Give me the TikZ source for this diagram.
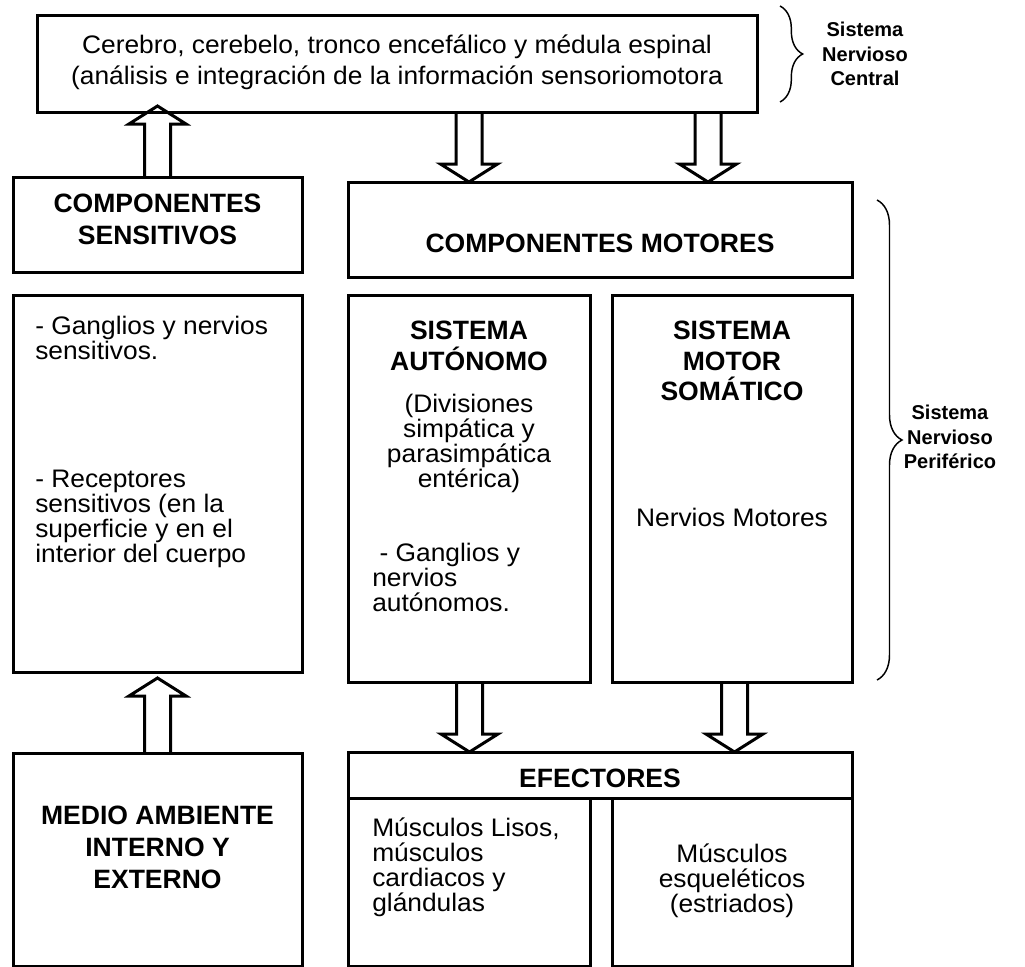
\documentclass[tikz,border=0pt]{standalone}
\usepackage{fontspec}
\setmainfont{Liberation Sans}
\newfontfamily\rf{Liberation Sans}[FakeStretch=1.04]
\usetikzlibrary{calc,fit,decorations.pathreplacing}
\begin{document}
\begin{tikzpicture}[x=0.75pt,y=-0.75pt,
  box/.style={draw,line width=2.25pt,rectangle,inner sep=0pt,outer sep=0pt},
  barrow/.style={line width=2.25pt,line join=miter,
    to path={let \p1=(\tikztostart),\p2=(\tikztotarget),
      \p3=($(\tikztotarget)!13.5pt!(\tikztostart)$) in
      (\x1-9.75pt,\y1) -- (\x1-9.75pt,\y3) -- (\x1-21.4pt,\y3) -- (\x2,\y2)
      -- (\x1+21.4pt,\y3) -- (\x1+9.75pt,\y3) -- (\x1+9.75pt,\y1)}},
  hb/.style={font=\bfseries\fontsize{19.9}{23.25}\selectfont,align=center,inner sep=0pt},
  rg/.style={font=\rf\fontsize{19}{18.75}\selectfont,inner sep=0pt},
  sm/.style={font=\bfseries\fontsize{15}{18.4}\selectfont,align=center,inner sep=0pt},
  brc/.style={line width=1.1pt,decorate,decoration={brace,amplitude=#1}}
]
\useasboundingbox (0,0) rectangle (1025,967);
\clip (0,0) rectangle (1025,967);

% boxes
\node[box,fit={(37,15)(757,112)}] (cns) {};
\node[box,fit={(13,177)(302,272)}] (sens) {};
\node[box,fit={(348,182)(852,277)}] (mot) {};
\node[box,fit={(13,295)(302,672)}] (sensdet) {};
\node[box,fit={(348,295)(590,682)}] (auto) {};
\node[box,fit={(612,295)(852,682)}] (soma) {};
\node[box,fit={(13,753)(302,966)}] (medio) {};
\node[box,fit={(348,752)(852,798)}] (efe) {};
\node[box,fit={(348,798)(590,966)}] (musl) {};
\node[box,fit={(612,798)(852,966)}] (musk) {};

% texts
\node[rg,align=center,font=\rf\fontsize{19}{23.25}\selectfont] (tcns) at (397,62)
  {Cerebro, cerebelo, tronco encefálico y médula espinal\\(análisis e integración de la información sensoriomotora};
\node[hb,font=\bfseries\fontsize{19.9}{24}\selectfont] (tsens) at (157.5,219) {COMPONENTES\\SENSITIVOS};
\node[hb] (tmot) at (600,243) {COMPONENTES MOTORES};
\node[rg,align=left,anchor=west] (tsd1) at (35,337.5) {- Ganglios y nervios\\sensitivos.};
\node[rg,align=left,anchor=west] (tsd2) at (35,518.5) {- Receptores\\sensitivos (en la\\superficie y en el\\interior del cuerpo};
\node[hb] (tauto) at (469,346) {SISTEMA\\AUTÓNOMO};
\node[rg,align=center] (tauto2) at (469,443) {(Divisiones\\simpática y\\parasimpática\\entérica)};
\node[rg,align=left,anchor=west] (tauto3) at (372,577) {\hspace*{5.5pt}- Ganglios y\\nervios\\autónomos.};
\node[hb,font=\bfseries\fontsize{19.9}{23}\selectfont] (tsoma) at (732,361) {SISTEMA\\MOTOR\\SOMÁTICO};
\node[rg] (tsoma2) at (732,517) {Nervios Motores};
\node[hb] (tefe) at (600,778) {EFECTORES};
\node[rg,align=left,anchor=west] (tmusl) at (372,867) {Músculos Lisos,\\músculos\\cardiacos y\\glándulas};
\node[rg,align=center] (tmusk) at (732,881) {Músculos\\esqueléticos\\(estriados)};
\node[hb,font=\bfseries\fontsize{19.9}{24}\selectfont] (tmedio) at (157.5,847) {MEDIO AMBIENTE\\INTERNO Y\\EXTERNO};

% braces and labels
\coordinate (b1a) at (780,6);
\coordinate (b1b) at (780,102);
\draw[brc=17pt] (b1a) -- (b1b);
\node[sm] (lcns) at (865,54) {Sistema\\Nervioso\\Central};
\coordinate (b2a) at (877,200);
\coordinate (b2b) at (877,680);
\draw[brc=18.75pt] (b2a) -- (b2b);
\node[sm] (lpns) at (950,437) {Sistema\\Nervioso\\Periférico};

% block arrows
\coordinate (a1e) at ($(sens.north)+(0,-71)$);
\draw[barrow] (sens.north) to (a1e);
\coordinate (a2s) at (cns.south -| auto.north);
\draw[barrow] (a2s) to (a2s |- mot.north);
\coordinate (a3s) at (708,112);
\draw[barrow] (a3s) to (a3s |- mot.north);
\coordinate (a4e) at ($(medio.north)+(0,-75)$);
\draw[barrow] (medio.north) to (a4e);
\coordinate (a5s) at (469.5,682);
\draw[barrow] (a5s) to (a5s |- efe.north);
\coordinate (a6s) at (734.5,682);
\draw[barrow] (a6s) to (a6s |- efe.north);
\end{tikzpicture}
\end{document}
